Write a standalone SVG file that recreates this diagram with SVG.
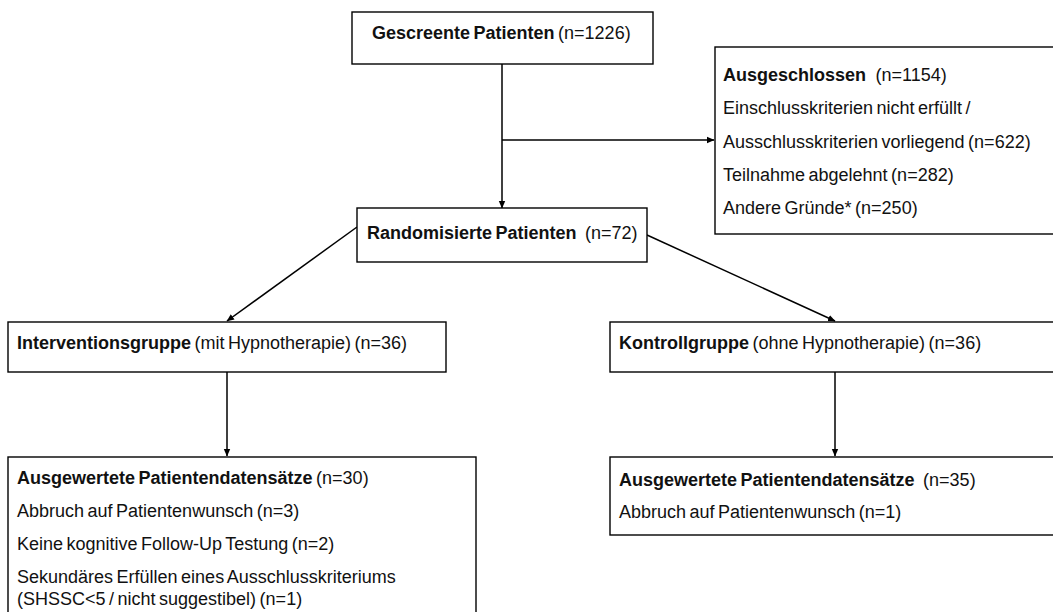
<svg xmlns="http://www.w3.org/2000/svg" width="1053" height="612" viewBox="0 0 1053 612">
  <defs>
    <marker id="arr" markerWidth="8" markerHeight="8" refX="7" refY="4" orient="auto" markerUnits="userSpaceOnUse">
      <path d="M0,0.8 L7.5,4 L0,7.2 Z" fill="#000"/>
    </marker>
    <style>
      .box { fill: #fff; stroke: #000; stroke-width: 1.4; }
      .t { font-family: "Liberation Sans", Arial, sans-serif; font-size: 18px; fill: #111; word-spacing: -1.5px; }
      .b { font-weight: bold; }
      .c { fill: none; stroke: #000; stroke-width: 1.5; }
    </style>
  </defs>
  <rect width="1053" height="612" fill="#fff"/>

  <g id="connectors">
    <line class="c" x1="502" y1="64" x2="502" y2="208" marker-end="url(#arr)"/>
    <line class="c" x1="502" y1="140" x2="714" y2="140" marker-end="url(#arr)"/>
    <line class="c" x1="357" y1="227" x2="227" y2="321" marker-end="url(#arr)"/>
    <line class="c" x1="647" y1="235" x2="835" y2="321" marker-end="url(#arr)"/>
    <line class="c" x1="227" y1="372" x2="227" y2="456" marker-end="url(#arr)"/>
    <line class="c" x1="835" y1="372" x2="835" y2="456" marker-end="url(#arr)"/>
  </g>

  <g id="gescreente">
    <rect class="box" x="352" y="12" width="301" height="52"/>
    <text class="t" x="372" y="39"><tspan class="b">Gescreente Patienten</tspan> (n=1226)</text>
  </g>

  <g id="ausgeschlossen">
    <rect class="box" x="715" y="47" width="360" height="187"/>
    <text class="t" x="723" y="81"><tspan class="b">Ausgeschlossen</tspan><tspan dx="6"> (n=1154)</tspan></text>
    <text class="t" x="723" y="114">Einschlusskriterien nicht erfüllt /</text>
    <text class="t" x="723" y="147.5">Ausschlusskriterien vorliegend (n=622)</text>
    <text class="t" x="723" y="181">Teilnahme abgelehnt (n=282)</text>
    <text class="t" x="723" y="214">Andere Gründe* (n=250)</text>
  </g>

  <g id="randomisierte">
    <rect class="box" x="357" y="208" width="290" height="54"/>
    <text class="t" x="367" y="239"><tspan class="b">Randomisierte Patienten</tspan><tspan dx="5"> (n=72)</tspan></text>
  </g>

  <g id="intervention">
    <rect class="box" x="8" y="322" width="438" height="50"/>
    <text class="t" x="17" y="349"><tspan class="b">Interventionsgruppe</tspan> (mit Hypnotherapie) (n=36)</text>
  </g>

  <g id="kontroll">
    <rect class="box" x="610" y="322" width="460" height="50"/>
    <text class="t" x="619" y="349"><tspan class="b">Kontrollgruppe</tspan> (ohne Hypnotherapie) (n=36)</text>
  </g>

  <g id="ausgewertet-intervention">
    <rect class="box" x="8" y="457" width="468" height="170"/>
    <text class="t" x="17" y="484"><tspan class="b">Ausgewertete Patientendatensätze</tspan> (n=30)</text>
    <text class="t" x="17" y="517">Abbruch auf Patientenwunsch (n=3)</text>
    <text class="t" x="17" y="550">Keine kognitive Follow-Up Testung (n=2)</text>
    <text class="t" x="17" y="583">Sekundäres Erfüllen eines Ausschlusskriteriums</text>
    <text class="t" x="17" y="605">(SHSSC&lt;5 / nicht suggestibel) (n=1)</text>
  </g>

  <g id="ausgewertet-kontroll">
    <rect class="box" x="610" y="457" width="460" height="78"/>
    <text class="t" x="619" y="486"><tspan class="b">Ausgewertete Patientendatensätze</tspan><tspan dx="5"> (n=35)</tspan></text>
    <text class="t" x="619" y="518">Abbruch auf Patientenwunsch (n=1)</text>
  </g>
</svg>
